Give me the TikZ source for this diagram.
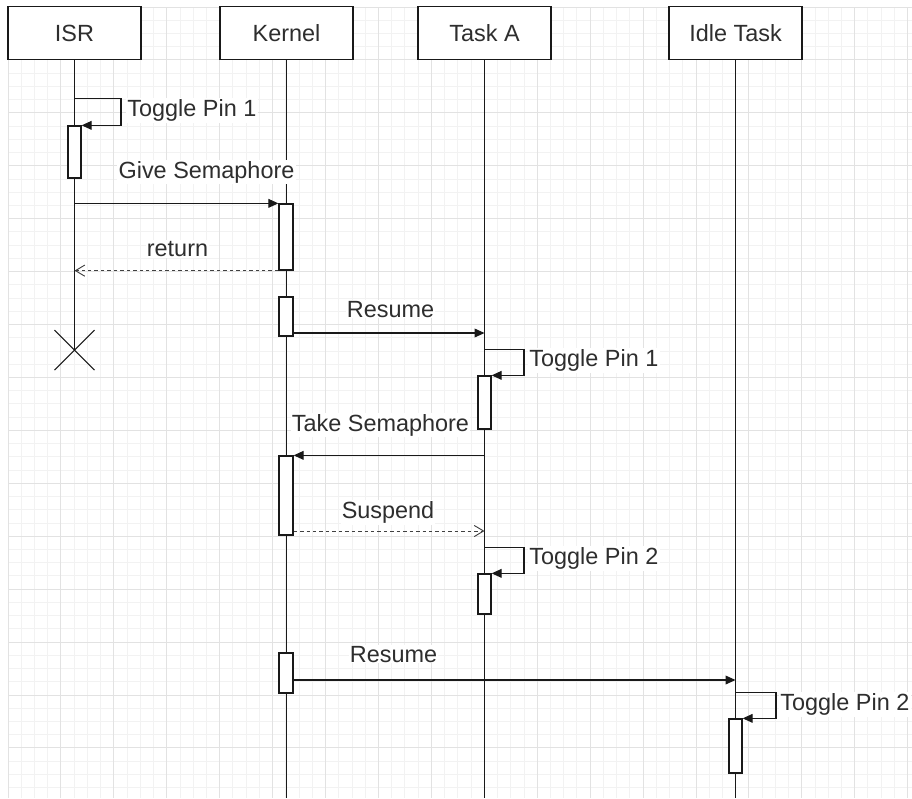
\documentclass[tikz,border=0pt]{standalone}
\usepackage{fontspec}
\setmainfont{Liberation Sans}
\usetikzlibrary{arrows.meta,fit}
\definecolor{gridminor}{HTML}{F2F2F2}
\definecolor{gridmajor}{HTML}{E2E2E2}
\definecolor{inkgray}{HTML}{2E2E2E}
\tikzset{
  head/.style={draw=black!90, line width=1.2pt, fill=white, text=inkgray,
    minimum width=113.5pt, minimum height=45pt, inner sep=0pt},
  life/.style={draw=black!90, line width=0.9pt},
  act/.style={draw=black!90, line width=1.1pt, fill=white, inner sep=0pt},
  msg/.style={draw=black!90, line width=0.9pt, -{Triangle[length=8.5pt,width=7.5pt]}},
  ret/.style={draw=black!75, line width=0.8pt, dash pattern=on 3pt off 2.5pt,
    -{Straight Barb[length=8pt,width=9.5pt]}},
  lbl/.style={fill=white, text=inkgray, inner sep=1pt}
}
\begin{document}
\begin{tikzpicture}[x=0.3mm, y=-0.3mm, font=\fontsize{20}{24}\selectfont]
\useasboundingbox (0,0) rectangle (912,798);
\clip (0,0) rectangle (912,798);
% background grid
\foreach \i in {0,...,68} \draw[gridminor, line width=0.8pt] ({8+13.23*\i},7) -- ({8+13.23*\i},798);
\foreach \j in {0,...,60} \draw[gridminor, line width=0.8pt] (8,{7+13.23*\j}) -- (912,{7+13.23*\j});
\foreach \i in {0,4,...,68} \draw[gridmajor, line width=0.8pt] ({8+13.23*\i},7) -- ({8+13.23*\i},798);
\foreach \j in {0,4,...,60} \draw[gridmajor, line width=0.8pt] (8,{7+13.23*\j}) -- (912,{7+13.23*\j});

% lifeline heads
\node[head] (isr) at (74.5,33) {ISR};
\node[head] (kernel) at (286.5,33) {Kernel};
\node[head] (taskA) at (484.5,33) {Task A};
\node[head] (idle) at (735.5,33) {Idle Task};

% lifelines
\coordinate (isrEnd) at (74.5,350);
\coordinate (bottom) at (0,798);
\draw[life] (isr) -- (isrEnd);
\draw[life] (kernel) -- (kernel |- bottom);
\draw[life] (taskA) -- (taskA |- bottom);
\draw[life] (idle) -- (idle |- bottom);
\draw[life] (isrEnd) +(-20,-20) -- +(20,20) +(-20,20) -- +(20,-20);

% activations
\node[act, fit={(68,126)(81,178)}] (isrAct) {};
\node[act, fit={(279,204)(293,270)}] (kAct1) {};
\node[act, fit={(279,297)(293,336)}] (kAct2) {};
\node[act, fit={(478,376)(491,429)}] (tAct1) {};
\node[act, fit={(279,456)(293,535)}] (kAct3) {};
\node[act, fit={(478,574)(491,614)}] (tAct2) {};
\node[act, fit={(279,653)(293,693)}] (kAct4) {};
\node[act, fit={(729,719)(742,773)}] (iAct1) {};

% ISR
\draw[msg] (isrAct.north) ++(0,-27) -- ++(46.5,0) |- (isrAct.north east);
\node[lbl, anchor=base west] (togIsr) at (126,116.5) {Toggle Pin 1};
\draw[msg] (isr |- kAct1.north west) -- (kAct1.north west);
\node[lbl, anchor=base] (give) at (206.5,178) {Give Semaphore};
\draw[ret] (kAct1.south west) -- (isr |- kAct1.south west);
\node[lbl, anchor=base] (ret1) at (177.5,256.5) {return};

% Kernel -> Task A
\coordinate (res1) at (293,333);
\draw[msg] (kAct2.east |- res1) -- (taskA |- res1);
\node[lbl, anchor=base] (resume1) at (390.5,317) {Resume};
\draw[msg] (tAct1.north) ++(0,-26) -- ++(39.5,0) |- (tAct1.north east);
\node[lbl, anchor=base west] (togA1) at (528,366.5) {Toggle Pin 1};
\draw[msg] (taskA |- kAct3.north east) -- (kAct3.north east);
\node[lbl, anchor=base] (take) at (380.5,431) {Take Semaphore};
\coordinate (susp) at (293,531);
\draw[ret] (kAct3.east |- susp) -- (taskA |- susp);
\node[lbl, anchor=base] (suspend) at (388,518.5) {Suspend};
\draw[msg] (tAct2.north) ++(0,-26) -- ++(39.5,0) |- (tAct2.north east);
\node[lbl, anchor=base west] (togA2) at (528,564.5) {Toggle Pin 2};

% Kernel -> Idle Task
\coordinate (res2) at (293,680);
\draw[msg] (kAct4.east |- res2) -- (idle |- res2);
\node[lbl, anchor=base] (resume2) at (393.5,662) {Resume};
\draw[msg] (iAct1.north) ++(0,-26) -- ++(40.5,0) |- (iAct1.north east);
\node[lbl, anchor=base west] (togI) at (779,710.5) {Toggle Pin 2};
\end{tikzpicture}
\end{document}
